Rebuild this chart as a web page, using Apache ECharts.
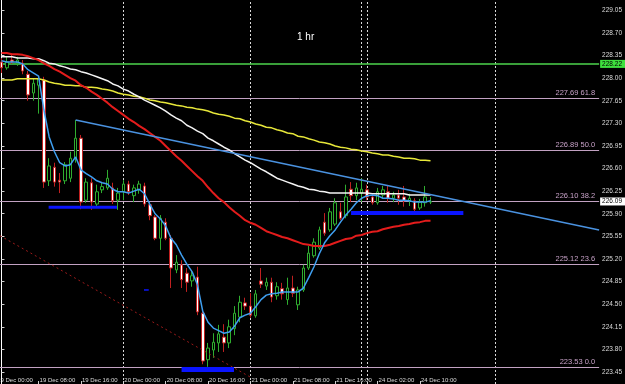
<!DOCTYPE html>
<html><head><meta charset="utf-8">
<script src="https://cdn.jsdelivr.net/npm/echarts@6/dist/echarts.min.js"></script>
<style>html,body{margin:0;padding:0;background:#000;}#c{width:625px;height:384px;}</style>
</head><body><div id="c"></div>
<script>
// hourly bars, 19 Dec 01:00 .. 24 Dec 12:00 (index 0..81)
const opens = [228.25,228.16,228.28,228.23,228.23,228.06,227.77,227.89,227.97,226.41,
226.62,226.42,226.41,226.45,226.76,227.07,226.11,226.38,226.05,226.27,
226.30,226.30,226.11,226.24,226.36,226.18,226.27,226.33,226.04,225.85,
225.52,225.77,225.52,225.03,225.11,224.98,224.86,224.92,224.36,223.64,
223.79,223.90,223.99,223.90,224.12,224.30,224.52,224.47,224.32,224.86,
224.78,224.84,224.63,224.74,224.57,224.75,224.49,224.72,225.06,225.25,
225.37,225.77,225.65,225.74,225.93,225.87,226.28,226.18,226.22,226.27,
226.16,226.07,226.19,226.24,226.14,226.19,226.16,226.10,226.10,225.99,
226.07,226.08];
const highs = [228.31,228.33,228.36,228.33,228.28,228.11,227.99,228.03,228.02,226.76,
226.69,226.53,226.70,226.86,227.35,227.12,226.45,226.45,226.35,226.39,
226.58,226.38,226.30,226.42,226.41,226.35,226.41,226.38,226.08,225.88,
225.88,225.83,225.57,225.26,225.18,225.06,225.03,225.08,224.41,223.90,
224.05,224.18,224.19,224.26,224.47,224.63,224.60,224.67,224.72,225.06,
224.91,224.91,224.84,224.83,224.91,224.94,224.77,225.11,225.40,225.52,
225.70,225.91,225.99,226.14,226.07,226.35,226.39,226.38,226.45,226.35,
226.22,226.30,226.33,226.33,226.24,226.27,226.33,226.21,226.14,226.13,
226.33,226.16];
const lows = [228.08,228.13,228.22,228.19,228.06,227.65,227.65,227.45,226.30,226.33,
226.32,226.22,226.36,226.39,226.69,225.97,226.07,225.96,226.01,226.22,
226.27,226.05,225.96,226.11,226.19,226.08,226.21,226.01,225.80,225.49,
225.34,225.49,224.75,224.98,224.75,224.69,224.77,224.33,223.57,223.53,
223.67,223.76,223.76,223.82,224.02,224.22,224.41,224.29,224.29,224.75,
224.72,224.53,224.57,224.57,224.49,224.61,224.41,224.69,225.03,225.22,
225.34,225.56,225.62,225.71,225.80,225.83,226.08,226.11,226.08,226.11,
226.04,226.04,226.14,226.07,226.08,226.04,226.01,226.02,225.93,225.96,
226.01,226.05];
const closes = [228.16,228.25,228.25,228.28,228.11,227.74,227.92,227.99,226.39,226.64,
226.39,226.39,226.66,226.76,227.07,226.08,226.39,226.08,226.24,226.32,
226.45,226.10,226.22,226.36,226.24,226.30,226.36,226.05,225.87,225.52,
225.83,225.52,225.06,225.15,224.88,224.84,224.94,224.38,223.62,223.82,
223.91,224.04,223.90,224.15,224.36,224.53,224.47,224.33,224.66,224.81,
224.84,224.61,224.77,224.66,224.75,224.67,224.72,225.06,225.29,225.46,
225.65,225.60,225.93,226.07,225.83,226.16,226.18,226.30,226.28,226.16,
226.07,226.24,226.27,226.14,226.19,226.14,226.10,226.14,225.97,226.08,
226.16,226.09];

const maFast = [228.27,228.25,228.25,228.25,228.22,228.13,228.08,228.03,227.51,227.09,
226.86,226.69,226.64,226.66,226.78,226.58,226.52,226.47,226.41,226.38,
226.36,226.28,226.24,226.24,226.22,226.25,226.28,226.21,226.05,225.90,
225.82,225.71,225.52,225.42,225.26,225.12,225.00,224.80,224.39,224.22,
224.13,224.09,224.05,224.07,224.16,224.29,224.33,224.36,224.46,224.57,
224.64,224.66,224.67,224.69,224.69,224.69,224.69,224.75,224.91,225.08,
225.28,225.45,225.56,225.65,225.77,225.88,225.97,226.07,226.14,226.18,
226.19,226.18,226.14,226.14,226.13,226.11,226.11,226.10,226.08,226.08,
226.08,226.10];
const maRed = [228.39,228.39,228.37,228.37,228.36,228.34,228.31,228.28,228.23,228.19,
228.14,228.10,228.05,228.00,227.96,227.89,227.85,227.79,227.74,227.68,
227.62,227.55,227.49,227.43,227.37,227.32,227.26,227.21,227.15,227.09,
227.03,226.95,226.87,226.79,226.72,226.64,226.56,226.48,226.41,226.31,
226.22,226.14,226.08,226.00,225.93,225.87,225.80,225.76,225.73,225.68,
225.63,225.60,225.57,225.54,225.52,225.49,225.46,225.43,225.42,225.40,
225.40,225.40,225.42,225.45,225.48,225.51,225.52,225.56,225.57,225.60,
225.62,225.63,225.66,225.68,225.70,225.71,225.73,225.74,225.76,225.77,
225.79,225.79];
const maWhite = [228.33,228.33,228.33,228.31,228.31,228.31,228.30,228.30,228.27,228.23,
228.22,228.19,228.17,228.14,228.13,228.10,228.08,228.05,228.02,227.99,
227.96,227.91,227.88,227.83,227.80,227.75,227.71,227.66,227.62,227.58,
227.54,227.49,227.43,227.38,227.34,227.27,227.23,227.18,227.14,227.07,
227.03,226.98,226.93,226.89,226.83,226.78,226.73,226.69,226.64,226.59,
226.55,226.50,226.45,226.42,226.39,226.36,226.33,226.31,226.28,226.27,
226.25,226.24,226.22,226.22,226.22,226.22,226.22,226.22,226.22,226.22,
226.21,226.21,226.21,226.21,226.21,226.21,226.21,226.19,226.19,226.19,
226.19,226.19];
const maYellow = [227.97,227.97,227.97,227.99,227.99,227.99,227.99,227.99,227.97,227.94,
227.92,227.91,227.89,227.89,227.88,227.88,227.86,227.86,227.85,227.83,
227.82,227.80,227.77,227.75,227.74,227.72,227.71,227.69,227.66,227.65,
227.63,227.62,227.60,227.58,227.57,227.55,227.54,227.52,227.51,227.49,
227.46,227.44,227.43,227.41,227.38,227.37,227.34,227.32,227.29,227.27,
227.24,227.23,227.20,227.18,227.15,227.14,227.10,227.09,227.06,227.04,
227.01,227.00,226.98,226.95,226.93,226.92,226.90,226.89,226.87,226.86,
226.84,226.83,226.81,226.81,226.79,226.78,226.76,226.76,226.75,226.73,
226.73,226.72];

const timeTickBars = [-1,7,15,23,31,39,47,55,63,71,79];
const timeTickLabels = ['19 Dec 00:00','19 Dec 08:00','19 Dec 16:00','20 Dec 00:00','20 Dec 08:00','20 Dec 16:00','21 Dec 00:00','21 Dec 08:00','21 Dec 16:00','24 Dec 02:00','24 Dec 10:00'];
const priceTicks = [229.05,228.70,228.35,228.00,227.65,227.30,226.95,226.60,226.25,225.90,225.55,225.20,224.85,224.50,224.15,223.80,223.45];
const daySeparators = [23,47,68,69,93.2];
const fibLevels = [227.69,226.89,226.10,225.12,223.53];
const fibPercents = ['61.8','50.0','38.2','23.6','0.0'];
const greenLevel = 228.22;
const lastPrice = 226.09;
const trendBlue = [[14,227.35],[112.83,225.65]];
const trendRedDotted = [[-0.28,225.56],[47,223.37]];
const supportSegments = [
  [[8.9,226.00],[21.8,226.00]],
  [[34.0,223.49],[43.9,223.49]],
  [[66.0,225.91],[87.2,225.91]],
  [[26.9,224.72],[27.8,224.72]]
];
const supportWidths = [3,5,4,1.5];
const xMin = -0.28, xMax = 112.83;
const yMin = 223.264, yMax = 229.2095;

const FONT = 'Liberation Sans';
const candleData = opens.map((o,k)=>[k,o,closes[k],lows[k],highs[k]]);
const toXY = arr => arr.map((v,k)=>[k,v]);
const visibleTicks = timeTickBars.filter(v => v >= xMin);

const markData = [];
daySeparators.forEach(x => markData.push({xAxis:x, lineStyle:{color:'#d8d8d8',type:[2,2],width:1}, label:{show:false}}));
fibLevels.forEach((v,i) => markData.push({yAxis:v, lineStyle:{color:'#c2a2c2',type:'solid',width:1},
  label:{show:true,position:'insideEndTop',formatter: v.toFixed(2)+' '+fibPercents[i],color:'#c6a0c6',fontSize:7.5,fontFamily:FONT,distance:[4,1]}}));
markData.push({yAxis:greenLevel, lineStyle:{color:'#4cd44c',type:'solid',width:1.5},
  label:{show:true,position:'end',formatter:greenLevel.toFixed(2),color:'#000',backgroundColor:'#3ee03e',padding:[1,3,0,2],fontSize:6.5,fontFamily:FONT,distance:1}});
markData.push({yAxis:lastPrice, lineStyle:{color:'rgba(0,0,0,0)',width:0},
  label:{show:true,position:'end',formatter:lastPrice.toFixed(2),color:'#000',backgroundColor:'#ffffff',padding:[1,3,0,2],fontSize:6.5,fontFamily:FONT,distance:1}});

const series = [
  {type:'candlestick', data:candleData, barWidth:3, z:2,
   itemStyle:{color:'#000',color0:'#fff',borderColor:'#2fae2f',borderColor0:'#c02020',borderWidth:1},
   markLine:{symbol:['none','none'],silent:true,animation:false,data:markData, z:1}},
  {type:'line', data:toXY(maYellow), symbol:'none', lineStyle:{color:'#e8e83a',width:1.5}, z:3},
  {type:'line', data:toXY(maWhite), symbol:'none', lineStyle:{color:'#f4f4f4',width:1.5}, z:3},
  {type:'line', data:toXY(maRed), symbol:'none', lineStyle:{color:'#e41c1c',width:2}, z:3},
  {type:'line', data:toXY(maFast), symbol:'none', lineStyle:{color:'#3f9ff0',width:1.5}, z:4},
  {type:'line', data:trendBlue, symbol:'none', lineStyle:{color:'#4a92e0',width:1.5}, z:4},
  {type:'line', data:trendRedDotted, symbol:'none', lineStyle:{color:'#9a1a1a',width:1,type:[2,3]}, z:4}
];
supportSegments.forEach((seg,i) => series.push({type:'line', data:seg, symbol:'none', lineStyle:{color:'#0a14ff',width:supportWidths[i]}, z:5}));

const chart = echarts.init(document.getElementById('c'), null, {renderer:'canvas'});
chart.setOption({
  animation:false,
  backgroundColor:'#000',
  grid:{left:0,right:21,top:0,bottom:0},
  xAxis:{type:'value',min:xMin,max:xMax,
    axisLine:{show:false},splitLine:{show:false},
    axisTick:{show:true,inside:true,length:3,customValues:visibleTicks,lineStyle:{color:'#cfcfcf'}},
    axisLabel:{inside:true,customValues:visibleTicks,formatter:v=>timeTickLabels[timeTickBars.indexOf(v)]||'',
      color:'#dcdcdc',fontSize:6,fontFamily:FONT,align:'left',margin:1,padding:[0,0,0,1]}},
  yAxis:{type:'value',position:'right',min:yMin,max:yMax,scale:true,
    axisLine:{show:true,lineStyle:{color:'#fff',width:1}},splitLine:{show:false},
    axisTick:{show:true,length:3,customValues:priceTicks,lineStyle:{color:'#cfcfcf'}},
    axisLabel:{customValues:priceTicks,formatter:v=>v.toFixed(2),color:'#dcdcdc',fontSize:6.5,fontFamily:FONT,margin:3}},
  graphic:[{type:'text',left:297,top:32,style:{text:'1 hr',fill:'#fff',font:'10px "Liberation Sans"'}}],
  series:series
});
// first time label sits left of the visible range (clipped by the canvas edge)
const hidden = timeTickBars.filter(v => v < xMin);
const extra = hidden.map(v => {
  const px = chart.convertToPixel({xAxisIndex:0}, v);
  return {type:'text', x: px + 1, y: 383, silent:true,
    style:{text: timeTickLabels[timeTickBars.indexOf(v)], fill:'#dcdcdc', font:'6px "Liberation Sans"', verticalAlign:'bottom', align:'left'}};
});
chart.setOption({graphic:[{type:'text',left:297,top:32,style:{text:'1 hr',fill:'#fff',font:'10px "Liberation Sans"'}}].concat(extra)});
</script></body></html>
